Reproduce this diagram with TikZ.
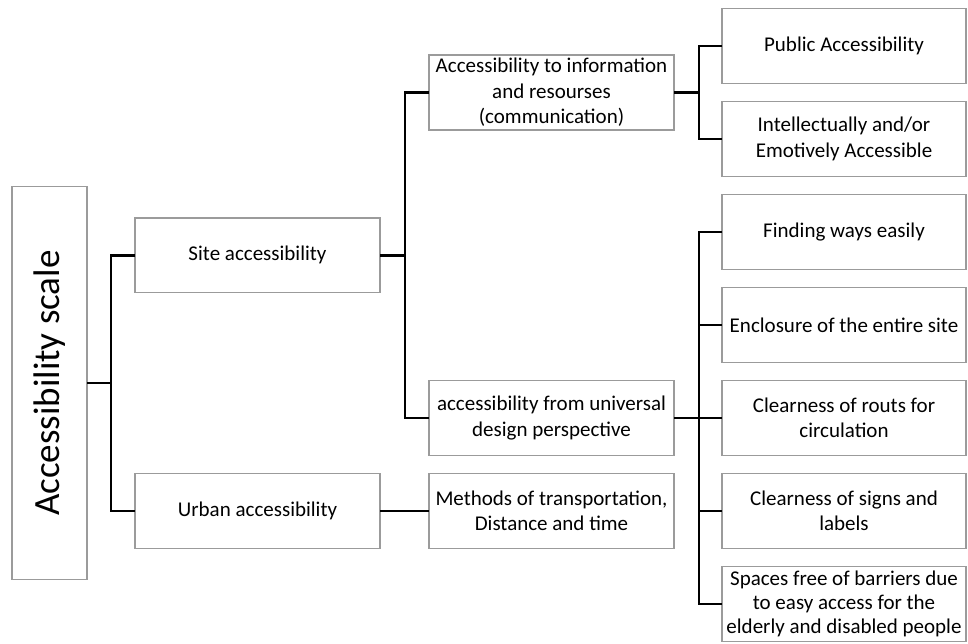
\documentclass[tikz,border=0pt]{standalone}
\usepackage{fontspec}
\setmainfont{Carlito}
\usetikzlibrary{positioning,calc}
\definecolor{boxgray}{RGB}{155,155,155}

\begin{document}
\begin{tikzpicture}[
    x=1pt, y=1pt,
    node distance=18.5pt and 48pt,
    leaf/.style={draw=boxgray, line width=1.4pt, outer sep=0pt, align=center, minimum height=74.5pt, minimum width=244pt, font=\fontsize{21}{25.5}\selectfont},
    branch/.style={leaf, minimum width=245pt},
    rootbox/.style={draw=boxgray, line width=1.4pt, outer sep=0pt, rotate=90, minimum width=393pt, minimum height=75pt, font=\fontsize{37}{44}\selectfont},
    link/.style={line width=2.6pt}
]
    \useasboundingbox (0,0) rectangle (968,-643);

    \node[leaf] (public) at (844,-46) {Public Accessibility};
    \node[leaf, below=of public] (emotive) {Intellectually and/or\\Emotively Accessible};
    \node[leaf, below=of emotive] (ways) {Finding ways easily};
    \node[leaf, below=of ways] (enclosure) {Enclosure of the entire site};
    \node[leaf, below=of enclosure] (routs) {Clearness of routs for\\circulation};
    \node[leaf, below=of routs] (signs) {Clearness of signs and\\labels};
    \node[leaf, below=of signs, inner ysep=0pt, font=\fontsize{21}{24}\selectfont] (barriers) {Spaces free of barriers due\\to easy access for the\\elderly and disabled people};

    \node[branch, anchor=east] (info) at ($(public.west)!0.5!(emotive.west)+(-48,0)$) {Accessibility to information\\and resourses\\(communication)};
    \node[branch, left=of routs] (universal) {accessibility from universal\\design perspective};
    \node[branch, left=of signs] (methods) {Methods of transportation,\\Distance and time};

    \node[branch, anchor=east] (site) at ($(info.west)!0.5!(universal.west)+(-49,0)$) {Site accessibility};
    \node[branch, left=49pt of methods] (urban) {Urban accessibility};

    \node[rootbox, anchor=south] (root) at ($(site.west)!0.5!(urban.west)+(-48,0)$) {Accessibility scale};

    \draw[link] (root.south) -- ++(24,0) coordinate (j0);
    \draw[link] (site.west) -| (j0) |- (urban.west);
    \draw[link] (site.east) -- ++(25,0) coordinate (j1);
    \draw[link] (info.west) -| (j1) |- (universal.west);
    \draw[link] (info.east) -- ++(25,0) coordinate (j2);
    \draw[link] (public.west) -| (j2) |- (emotive.west);
    \draw[link] (universal.east) -- ++(25,0) coordinate (j3);
    \draw[link] (ways.west) -| (j3) |- (barriers.west);
    \foreach \leafname in {enclosure, routs, signs}
        \draw[link] (j3 |- \leafname.west) -- (\leafname.west);
    \draw[link] (urban.east) -- (methods.west);
\end{tikzpicture}
\end{document}
